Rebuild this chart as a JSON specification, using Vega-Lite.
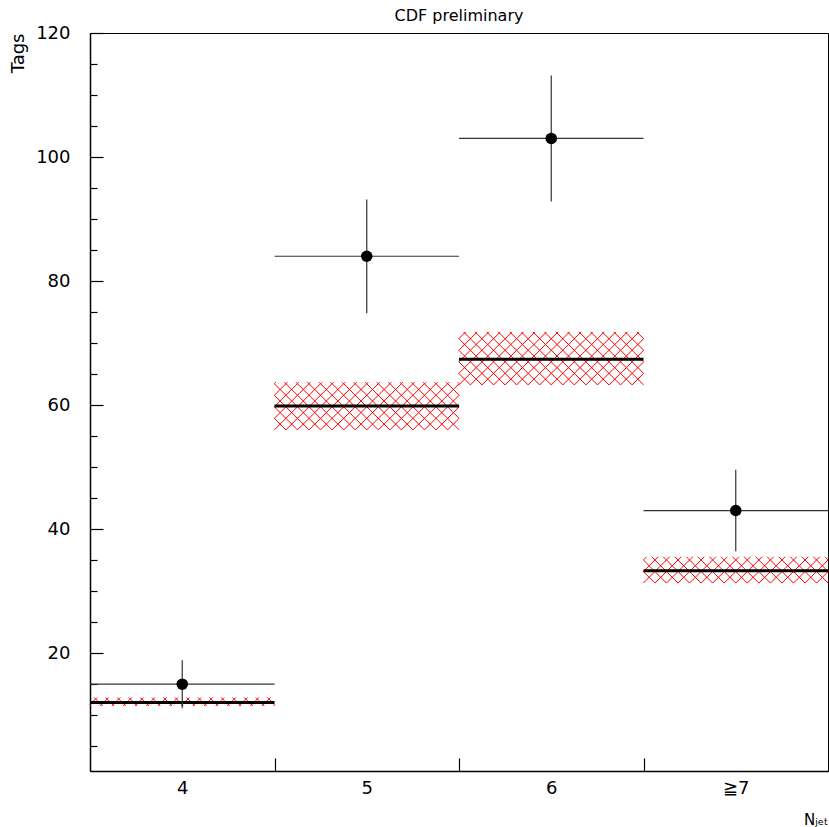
{
  "$schema": "https://vega.github.io/schema/vega-lite/v6.json",
  "width": 738,
  "height": 738,
  "autosize": {"type": "none"},
  "padding": {"left": 90, "top": 33, "right": 1, "bottom": 56},
  "background": "white",
  "config": {
    "font": "DejaVu Sans",
    "view": {"stroke": "black", "strokeWidth": 1},
    "axis": {"grid": false, "domainColor": "black", "domainWidth": 1.5, "tickColor": "black", "tickWidth": 1.2, "labelColor": "black", "titleColor": "black", "labelFont": "DejaVu Sans", "titleFont": "DejaVu Sans", "titleFontWeight": "normal"}
  },
  "title": {"text": "CDF preliminary", "frame": "group", "anchor": "middle", "fontSize": 16, "fontWeight": "normal", "font": "DejaVu Sans", "baseline": "alphabetic", "offset": -13, "color": "black"},
  "data": {"values": [
    {"bin": 4, "label": "4", "xlo": 3.5, "xhi": 4.5, "obs": 15, "errlo": 11.13, "errhi": 18.87, "pred": 12.03, "plo": 11.5, "phi": 12.85},
    {"bin": 5, "label": "5", "xlo": 4.5, "xhi": 5.5, "obs": 84, "errlo": 74.83, "errhi": 93.17, "pred": 59.85, "plo": 56.0, "phi": 63.7},
    {"bin": 6, "label": "6", "xlo": 5.5, "xhi": 6.5, "obs": 103, "errlo": 92.85, "errhi": 113.15, "pred": 67.4, "plo": 63.25, "phi": 71.8},
    {"bin": 7, "label": "≧7", "xlo": 6.5, "xhi": 7.5, "obs": 43, "errlo": 36.44, "errhi": 49.56, "pred": 33.3, "plo": 31.3, "phi": 35.55}
  ]},
  "resolve": {"axis": {"y": "independent"}},
  "layer": [
    {
      "mark": {"type": "point", "filled": false, "stroke": "#ff0000", "strokeWidth": 1, "opacity": 1, "size": 533.61},
      "encoding": {
        "x": {"field": "bin", "type": "quantitative", "title": "Nⱼₑₜ",
          "scale": {"domain": [3.5, 7.5], "nice": false, "zero": false},
          "axis": {"values": [4, 4.5, 5, 5.5, 6, 6.5, 7], "tickSize": -13, "labelPadding": 21, "labelFontSize": 18, "labelFlush": false,
            "labelExpr": "datum.value === 7 ? '≧7' : (datum.value % 1 === 0 ? format(datum.value, 'd') : '')",
            "tickOpacity": {"condition": {"test": "datum.value % 1 === 0", "value": 0}, "value": 1},
            "titleAnchor": "end", "titleAlign": "right", "titleX": 738, "titleY": 53, "titleBaseline": "alphabetic", "titleFontSize": 15}},
        "y": {"field": "plo", "type": "quantitative", "title": "Tags",
          "scale": {"domain": [1, 120], "nice": false, "zero": false},
          "axis": {"values": [20, 40, 60, 80, 100, 120], "tickSize": -13, "labelPadding": 33, "labelFontSize": 18, "labelFlush": false,
            "titleAnchor": "end", "titleAlign": "right", "titleAngle": -90, "titleX": -67, "titleY": 0, "titleBaseline": "alphabetic", "titleFontSize": 18}},
        "shape": {"field": "label", "type": "nominal", "legend": null,
          "scale": {"domain": ["4", "5", "6", "≧7"], "range": [
            "M-8 -0.1L-7.9 0M-7.625 -0.725L-6.9 0M-6.625 -0.725L-5.9 0M-5.625 -0.725L-4.9 0M-4.625 -0.725L-3.9 0M-3.625 -0.725L-2.9 0M-2.625 -0.725L-1.9 0M-1.625 -0.725L-0.9 0M-0.625 -0.725L0.1 0M0.375 -0.725L1.1 0M1.375 -0.725L2.1 0M2.375 -0.725L3.1 0M3.375 -0.725L4.1 0M4.375 -0.725L5.1 0M5.375 -0.725L6.1 0M6.375 -0.725L7.1 0M7.375 -0.725L8 -0.1M-8 -0.1L-7.375 -0.725M-7.1 0L-6.375 -0.725M-6.1 0L-5.375 -0.725M-5.1 0L-4.375 -0.725M-4.1 0L-3.375 -0.725M-3.1 0L-2.375 -0.725M-2.1 0L-1.375 -0.725M-1.1 0L-0.375 -0.725M-0.1 0L0.625 -0.725M0.9 0L1.625 -0.725M1.9 0L2.625 -0.725M2.9 0L3.625 -0.725M3.9 0L4.625 -0.725M4.9 0L5.625 -0.725M5.9 0L6.625 -0.725M6.9 0L7.625 -0.725M7.9 0L8 -0.1",
            "M-8 -1L-7 0M-8 -2L-6 0M-8 -3L-5 0M-8 -4L-4 0M-7.134 -4.134L-3 0M-6.134 -4.134L-2 0M-5.134 -4.134L-1 0M-4.134 -4.134L0 0M-3.134 -4.134L1 0M-2.134 -4.134L2 0M-1.134 -4.134L3 0M-0.134 -4.134L4 0M0.866 -4.134L5 0M1.866 -4.134L6 0M2.866 -4.134L7 0M3.866 -4.134L8 0M4.866 -4.134L8 -1M5.866 -4.134L8 -2M6.866 -4.134L8 -3M7.866 -4.134L8 -4M-8 -4L-7.866 -4.134M-8 -3L-6.866 -4.134M-8 -2L-5.866 -4.134M-8 -1L-4.866 -4.134M-8 0L-3.866 -4.134M-7 0L-2.866 -4.134M-6 0L-1.866 -4.134M-5 0L-0.866 -4.134M-4 0L0.134 -4.134M-3 0L1.134 -4.134M-2 0L2.134 -4.134M-1 0L3.134 -4.134M0 0L4.134 -4.134M1 0L5.134 -4.134M2 0L6.134 -4.134M3 0L7.134 -4.134M4 0L8 -4M5 0L8 -3M6 0L8 -2M7 0L8 -1",
            "M-8 -1L-7 0M-8 -2L-6 0M-8 -3L-5 0M-8 -4L-4 0M-7.591 -4.591L-3 0M-6.591 -4.591L-2 0M-5.591 -4.591L-1 0M-4.591 -4.591L0 0M-3.591 -4.591L1 0M-2.591 -4.591L2 0M-1.591 -4.591L3 0M-0.591 -4.591L4 0M0.409 -4.591L5 0M1.409 -4.591L6 0M2.409 -4.591L7 0M3.409 -4.591L8 0M4.409 -4.591L8 -1M5.409 -4.591L8 -2M6.409 -4.591L8 -3M7.409 -4.591L8 -4M-8 -4L-7.409 -4.591M-8 -3L-6.409 -4.591M-8 -2L-5.409 -4.591M-8 -1L-4.409 -4.591M-8 0L-3.409 -4.591M-7 0L-2.409 -4.591M-6 0L-1.409 -4.591M-5 0L-0.409 -4.591M-4 0L0.591 -4.591M-3 0L1.591 -4.591M-2 0L2.591 -4.591M-1 0L3.591 -4.591M0 0L4.591 -4.591M1 0L5.591 -4.591M2 0L6.591 -4.591M3 0L7.591 -4.591M4 0L8 -4M5 0L8 -3M6 0L8 -2M7 0L8 -1",
            "M-8 -1L-7 0M-8 -2L-6 0M-7.282 -2.282L-5 0M-6.282 -2.282L-4 0M-5.282 -2.282L-3 0M-4.282 -2.282L-2 0M-3.282 -2.282L-1 0M-2.282 -2.282L0 0M-1.282 -2.282L1 0M-0.282 -2.282L2 0M0.718 -2.282L3 0M1.718 -2.282L4 0M2.718 -2.282L5 0M3.718 -2.282L6 0M4.718 -2.282L7 0M5.718 -2.282L8 0M6.718 -2.282L8 -1M7.718 -2.282L8 -2M-8 -2L-7.718 -2.282M-8 -1L-6.718 -2.282M-8 0L-5.718 -2.282M-7 0L-4.718 -2.282M-6 0L-3.718 -2.282M-5 0L-2.718 -2.282M-4 0L-1.718 -2.282M-3 0L-0.718 -2.282M-2 0L0.282 -2.282M-1 0L1.282 -2.282M0 0L2.282 -2.282M1 0L3.282 -2.282M2 0L4.282 -2.282M3 0L5.282 -2.282M4 0L6.282 -2.282M5 0L7.282 -2.282M6 0L8 -2M7 0L8 -1"
          ]}}
      }
    },
    {
      "mark": {"type": "rule", "color": "black", "strokeWidth": 3},
      "encoding": {
        "x": {"field": "xlo", "type": "quantitative", "title": "Nⱼₑₜ", "scale": {"domain": [3.5, 7.5], "nice": false, "zero": false}},
        "x2": {"field": "xhi"},
        "y": {"field": "pred", "type": "quantitative", "title": null,
          "scale": {"domain": [1, 120], "nice": false, "zero": false},
          "axis": {"values": [5, 10, 15, 25, 30, 35, 45, 50, 55, 65, 70, 75, 85, 90, 95, 105, 110, 115], "tickSize": -7, "labels": false, "domain": false, "title": null, "orient": "left"}}
      }
    },
    {
      "mark": {"type": "rule", "color": "#333333", "strokeWidth": 1.2},
      "encoding": {
        "x": {"field": "xlo", "type": "quantitative", "title": "Nⱼₑₜ", "scale": {"domain": [3.5, 7.5], "nice": false, "zero": false}},
        "x2": {"field": "xhi"},
        "y": {"field": "obs", "type": "quantitative", "axis": null, "scale": {"domain": [1, 120], "nice": false, "zero": false}}
      }
    },
    {
      "mark": {"type": "rule", "color": "#333333", "strokeWidth": 1.2},
      "encoding": {
        "x": {"field": "bin", "type": "quantitative", "title": "Nⱼₑₜ", "scale": {"domain": [3.5, 7.5], "nice": false, "zero": false}},
        "y": {"field": "errlo", "type": "quantitative", "axis": null, "scale": {"domain": [1, 120], "nice": false, "zero": false}},
        "y2": {"field": "errhi"}
      }
    },
    {
      "mark": {"type": "circle", "color": "black", "opacity": 1, "size": 133},
      "encoding": {
        "x": {"field": "bin", "type": "quantitative", "title": "Nⱼₑₜ", "scale": {"domain": [3.5, 7.5], "nice": false, "zero": false}},
        "y": {"field": "obs", "type": "quantitative", "axis": null, "scale": {"domain": [1, 120], "nice": false, "zero": false}}
      }
    }
  ]
}
